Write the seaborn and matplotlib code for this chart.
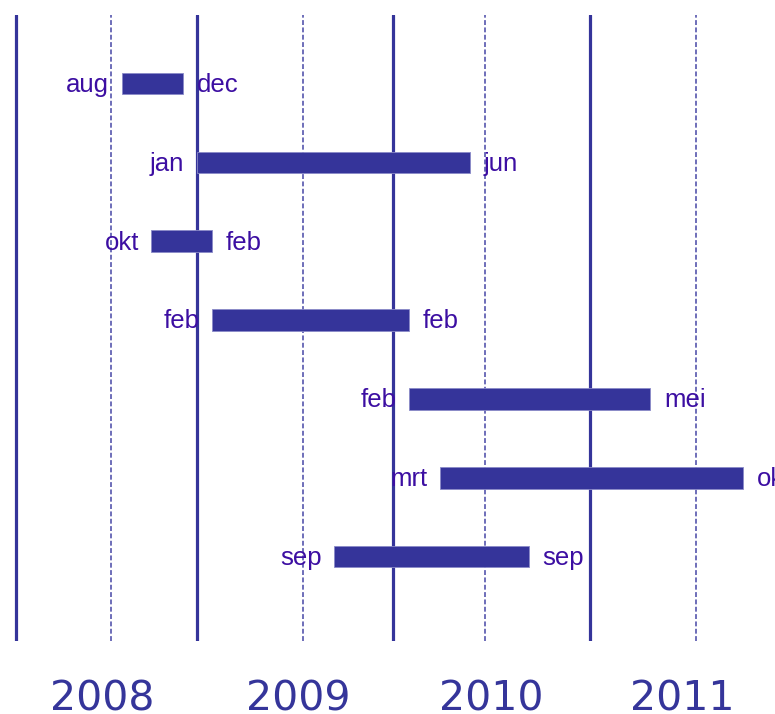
import matplotlib
matplotlib.use("Agg")
import matplotlib.pyplot as plt
import seaborn as sns
import pandas as pd

# ---- data (decimal years) ----
tasks = ["1", "2", "3", "4", "5", "6", "7"]
starts = [2008.62, 2009.00, 2008.77, 2009.08, 2010.08, 2010.24, 2009.70]
ends = [2008.93, 2010.39, 2009.08, 2010.08, 2011.31, 2011.78, 2010.69]
start_labels = ["aug", "jan", "okt", "feb", "feb", "mrt", "sep"]
end_labels = ["dec", "jun", "feb", "feb", "mei", "okt", "sep"]
years = ["2008", "2009", "2010", "2011"]
year_ticks = [2008.52, 2009.52, 2010.5, 2011.47]
solid_lines = [2008.081, 2009.003, 2010.0, 2011.003]
dashed_lines = [2008.563, 2009.540, 2010.468, 2011.542]

BAR = "#35349a"
TXT = "#3c0ea2"
YEAR = "#35359a"

sns.set_theme(style="white")
plt.rcParams["font.family"] = ["DejaVu Sans"]

fig = plt.figure(figsize=(7.75, 7.14), dpi=100)
ax = fig.add_axes([0.0, 1 - 641 / 714, 1.0, (641 - 14.7) / 714])

df = pd.DataFrame({"task": tasks, "start": starts, "end": ends})
df["dur"] = df["end"] - df["start"]

for x in solid_lines:
    ax.axvline(x, color=BAR, lw=2.3, zorder=1)
for x in dashed_lines:
    ax.axvline(x, color="#4646a6", lw=1.1, ls=(0, (3.2, 1.6)), zorder=1)

sns.barplot(data=df, x="dur", y="task", left=df["start"].tolist(), orient="h",
            color=BAR, saturation=1, width=0.273, ax=ax, zorder=2,
            edgecolor="#8a8ac8", linewidth=0.6)

for i, (s, e, sl, el) in enumerate(zip(starts, ends, start_labels, end_labels)):
    ax.annotate(sl, xy=(s, i), xytext=(-9, -6), textcoords="offset points",
                ha="right", va="baseline", fontsize=18.5, color=TXT,
                family="Liberation Sans", annotation_clip=False)
    ax.annotate(el, xy=(e, i), xytext=(10, -6), textcoords="offset points",
                ha="left", va="baseline", fontsize=18.5, color=TXT,
                family="Liberation Sans", annotation_clip=False)

ax.set_xlim(2008.0, 2008.0 + 775 / 196.5)
ax.set_ylim(7.069, -0.872)
ax.set_xticks(year_ticks)
ax.set_xticklabels(years, fontsize=29.5, color=YEAR)
ax.tick_params(axis="x", length=0, pad=27.5)
ax.set_yticks([])
ax.set_xlabel("")
ax.set_ylabel("")
for sp in ax.spines.values():
    sp.set_visible(False)

fig.savefig("out.png", dpi=100)
